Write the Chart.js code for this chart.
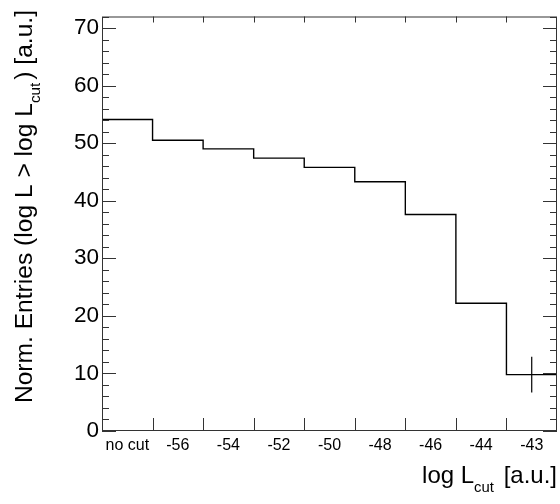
<!DOCTYPE html>
<html>
<head>
<meta charset="utf-8">
<script src="https://cdn.jsdelivr.net/npm/chart.js@4"></script>
<style>
  html, body { margin: 0; padding: 0; background: #fff; }
  #wrap { width: 560px; height: 504px; }
</style>
</head>
<body>
<div id="wrap"><canvas id="histo" width="560" height="504"></canvas></div>
<script>
// bins of the cut histogram
const binLabels = ["no cut", "-56", "-54", "-52", "-50", "-48", "-46", "-44", "-43"];
const entries = [54.1, 50.5, 49.0, 47.4, 45.8, 43.3, 37.6, 22.2, 9.8];
const errors = [0, 0, 0, 0, 0, 0, 0, 0, 3.1];
const yMax = 72;
const yMajorStep = 10;
const yMinorStep = 2;

const FONT = "'Liberation Sans', Arial, Helvetica, sans-serif";

// step outline: one point per bin edge, last value repeated at the right edge
const stepPoints = entries.map((v, i) => ({ x: i, y: v }));
stepPoints.push({ x: entries.length, y: entries[entries.length - 1] });

// vertical error bars at bin centres, separated by gaps
const errPoints = [];
errors.forEach((e, i) => {
  if (e > 0) {
    errPoints.push({ x: i + 0.5, y: entries[i] - e });
    errPoints.push({ x: i + 0.5, y: entries[i] + e });
    errPoints.push({ x: i + 0.5, y: null });
  }
});

// text with a subscript part, drawn left to right from (x, y) baseline
function subText(ctx, parts, size) {
  let w = 0;
  parts.forEach(p => {
    ctx.font = (p.sub ? size * 0.62 : size) + "px " + FONT;
    w += ctx.measureText(p.t).width + (p.gap || 0);
  });
  return w;
}
function drawSubText(ctx, parts, size, x, y) {
  parts.forEach(p => {
    ctx.font = (p.sub ? size * 0.62 : size) + "px " + FONT;
    ctx.fillText(p.t, x, p.sub ? y + size * 0.36 : y);
    x += ctx.measureText(p.t).width + (p.gap || 0);
  });
}

const yTitle = [
  { t: "Norm. Entries (log L > log L" },
  { t: "cut", sub: true, gap: 3 },
  { t: ") [a.u.]" }
];
const xTitle = [
  { t: "log L" },
  { t: "cut", sub: true, gap: 3 },
  { t: " [a.u.]" }
];

const frame = {
  id: "frame",
  afterDraw(chart) {
    const { ctx, chartArea: a, scales } = chart;
    const xs = scales.x, ys = scales.y;
    ctx.save();
    ctx.strokeStyle = "#333";
    ctx.lineWidth = 1;
    ctx.strokeRect(a.left + 0.5, a.top + 0.5, a.right - a.left - 1, a.bottom - a.top - 1);
    ctx.beginPath();
    // x ticks on bin edges
    for (let i = 1; i < entries.length; i++) {
      const px = Math.round(xs.getPixelForValue(i)) + 0.5;
      ctx.moveTo(px, a.bottom); ctx.lineTo(px, a.bottom - 13);
      ctx.moveTo(px, a.top); ctx.lineTo(px, a.top + 6);
    }
    // y ticks, major and minor, both sides
    for (let v = 0; v <= yMax; v += yMinorStep) {
      const len = v % yMajorStep === 0 ? 14 : 7;
      const py = Math.round(ys.getPixelForValue(v)) + 0.5;
      ctx.moveTo(a.left, py); ctx.lineTo(a.left + len, py);
      ctx.moveTo(a.right, py); ctx.lineTo(a.right - len, py);
    }
    ctx.stroke();

    ctx.fillStyle = "#000";
    ctx.textBaseline = "alphabetic";
    const size = 24.6;
    // x title, right aligned to the frame
    const wx = subText(ctx, xTitle, 24);
    drawSubText(ctx, xTitle, 24, a.right - wx, 483);
    // y title, rotated, ending at the top of the frame
    const wy = subText(ctx, yTitle, size);
    ctx.translate(31.5, 10 + wy);
    ctx.rotate(-Math.PI / 2);
    drawSubText(ctx, yTitle, size, 0, 0);
    ctx.restore();
  }
};

new Chart(document.getElementById("histo"), {
  type: "line",
  data: {
    datasets: [
      {
        data: stepPoints,
        stepped: true,
        borderColor: "#000",
        borderWidth: 1.4,
        pointRadius: 0,
        fill: false
      },
      {
        data: errPoints,
        borderColor: "#000",
        borderWidth: 1.2,
        pointRadius: 0,
        spanGaps: false,
        fill: false
      }
    ]
  },
  plugins: [frame],
  options: {
    responsive: false,
    animation: false,
    layout: { padding: { top: 12, right: 3, left: 0, bottom: 0 } },
    plugins: { legend: { display: false }, tooltip: { enabled: false } },
    scales: {
      x: {
        type: "linear",
        min: 0,
        max: binLabels.length,
        grid: { display: false, drawTicks: false },
        border: { display: false },
        afterBuildTicks(scale) {
          scale.ticks = binLabels.map((_, i) => ({ value: i + 0.5 }));
        },
        afterFit(scale) { scale.height = 73; },
        ticks: {
          autoSkip: false,
          maxRotation: 0,
          padding: 5,
          color: "#000",
          font: { family: FONT, size: 16 },
          callback: (v, i) => binLabels[i]
        }
      },
      y: {
        min: 0,
        max: yMax,
        grid: { display: false, drawTicks: false },
        border: { display: false },
        afterFit(scale) { scale.width = 102; },
        ticks: {
          stepSize: yMajorStep,
          includeBounds: false,
          padding: 3,
          color: "#000",
          font: { family: FONT, size: 22.5 }
        }
      }
    }
  }
});
</script>
</body>
</html>
